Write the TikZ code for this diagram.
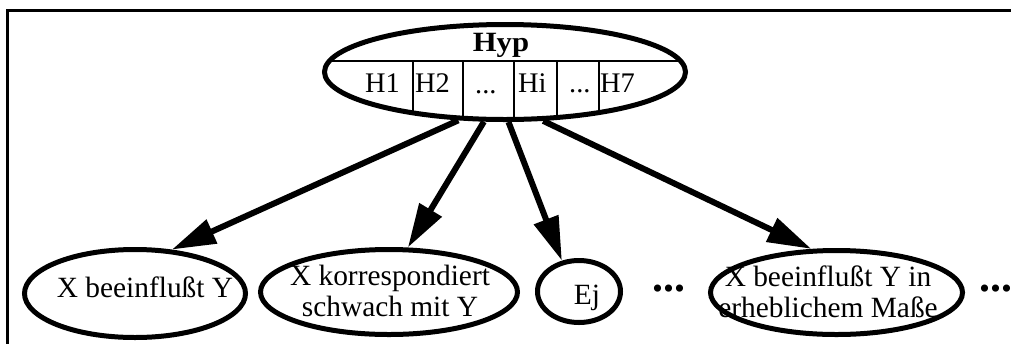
\documentclass[tikz,border=0pt]{standalone}
\usepackage{fontspec}
\setmainfont{Liberation Serif}
\usetikzlibrary{shapes.geometric,arrows.meta}
\begin{document}
\begin{tikzpicture}[x=1bp,y=-1bp,
  oval/.style={draw,ellipse,line width=5bp,inner sep=0pt},
  lbl/.style={inner sep=0pt,font=\fontsize{29.5}{31}\selectfont},
  cell/.style={inner sep=0pt,font=\fontsize{28.5}{30}\selectfont},
  bigdots/.style={inner sep=0pt,font=\fontsize{44}{46}\selectfont\bfseries},
  conn/.style={line width=6bp,-{Triangle[length=44bp,width=25bp]}},
  thin/.style={line width=2bp}]
\useasboundingbox (0,0) rectangle (1011,344);
% frame
\draw[line width=3.5bp] (1011,10.5) -- (7.5,10.5) -- (7.5,344);
% hypothesis record
\node[oval,minimum width=361bp,minimum height=95bp] (hyp) at (505,72) {};
\begin{scope}
  \clip (hyp.center) ellipse [x radius=180.5bp, y radius=47.5bp];
  \draw[thin] (300,61) -- (700,61);
  \foreach \x in {413,463,514,557,599} \draw[thin] (\x,61) -- (\x,130);
\end{scope}
\node[cell,anchor=base] (hyptitle) at (501,51) {\fontsize{28}{30}\selectfont\bfseries\scalebox{1.1}[1]{Hyp}};
\node[cell,anchor=base west] (h1) at (365,92) {H1};
\node[cell,anchor=base west] (h2) at (415,92) {H2};
\node[cell,anchor=base west] (hd1) at (475,93) {...};
\node[cell,anchor=base west] (hi) at (518,92) {Hi};
\node[cell,anchor=base west] (hd2) at (569,92) {...};
\node[cell,anchor=base west] (h7) at (600,92) {H7};
% evidence nodes
\node[oval,minimum width=221bp,minimum height=88bp] (e1) at (135,293.5) {};
\node[lbl,anchor=base] (t1) at (145,297) {X beeinflußt Y};
\node[oval,minimum width=257bp,minimum height=85bp] (e2) at (389,292) {};
\node[lbl,align=center] (t2) at (390,291) {X korrespondiert\\schwach mit Y};
\node[oval,minimum width=83bp,minimum height=62bp] (e3) at (579,291.5) {};
\node[lbl,anchor=base] (t3) at (587,304) {Ej};
\node[oval,minimum width=252bp,minimum height=84bp] (e4) at (836.5,292.5) {};
\node[lbl,align=center] (t4) at (828,292) {X beeinflußt Y in\\erheblichem Maße};
\node[bigdots,anchor=base west] (d1) at (652,291) {...};
\node[bigdots,anchor=base west] (d2) at (979,291) {...};
% connectors
\draw[conn] (hyp.226) -- (e1.50);
\draw[conn] (hyp.247) -- (e2.67);
\draw[conn] (hyp.274) -- (e3.119);
\draw[conn] (hyp.308) -- (e4.120);
\end{tikzpicture}
\end{document}
